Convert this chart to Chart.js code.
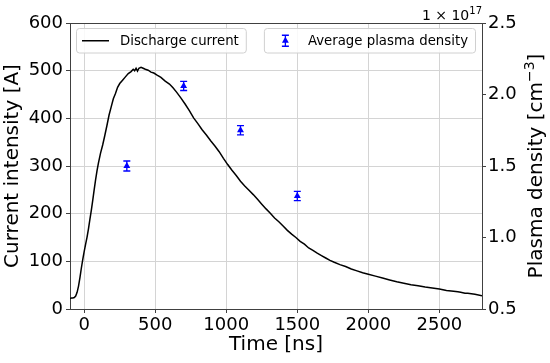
<!DOCTYPE html>
<html><head><meta charset="utf-8">
<script src="https://cdn.jsdelivr.net/npm/chart.js@4.4.1/dist/chart.umd.min.js"></script>
<style>html,body{margin:0;padding:0;background:#fff;}canvas{display:block;}</style>
</head><body>
<canvas id="c" width="550" height="363"></canvas>
<script>
// ---- data ----
const timeNs = [-100,-90,-80,-70,-60,-50,-40,-30,-20,-10,0,10,20,30,40,50,60,70,80,90,100,115,130,145,160,175,190,205,220,235,250,270,290,310,330,345,355,365,375,385,400,415,430,450,470,490,510,540,570,600,625,650,680,710,740,770,800,830,860,890,920,950,980,1010,1040,1070,1100,1130,1160,1190,1220,1250,1280,1310,1340,1370,1400,1430,1460,1490,1520,1550,1580,1610,1640,1670,1700,1730,1760,1800,1840,1880,1920,1960,2000,2050,2100,2150,2200,2250,2300,2350,2400,2450,2500,2550,2600,2630,2650,2680,2700,2750,2800];
const currentA = [22,23,23,24,27,35,48,66,86,104,121,136,151,168,188,207,228,250,271,290,306,327,344,364,385,407,424,441,452,465,473,480,487,494,498,503,500,505,499,505,507,505,503,501,497,495,491,486,478,472,464,455,443,430,416,401,389,376,365,353,342,330,316,303,291,280,268,258,249,240,230,220,210,201,191,183,174,165,157,150,142,136,128,123,117,112,107,102,98,93,89,84,80,76,73,69,65,61,57,54,51,49,46,44,42,39,37,36,35,33,33,31,28];
const densityTimes = [300,700,1100,1500];
const densityValues = [1.50,2.06,1.75,1.29];
const densityErrors = [0.035,0.032,0.032,0.032];
const xTicks = [0,500,1000,1500,2000,2500];
const yLeftTicks = [0,100,200,300,400,500,600];
const yRightTicks = [0.5,1.0,1.5,2.0,2.5];

const FONT = 'DejaVu Sans';
const GRID = '#d4d4d4';
const SPINE = '#404040';
const BLUE = '#0000ff';

const curveData = timeNs.map((t,i)=>({x:t,y:currentA[i]}));
const densData = densityTimes.map((t,i)=>({x:t,y:densityValues[i]}));

function drawErrBar(ctx,x,yTop,yBot,cap){
  ctx.beginPath();
  ctx.moveTo(x,yTop);ctx.lineTo(x,yBot);
  ctx.moveTo(x-cap,yTop);ctx.lineTo(x+cap,yTop);
  ctx.moveTo(x-cap,yBot);ctx.lineTo(x+cap,yBot);
  ctx.stroke();
}
function drawTri(ctx,x,y,r){
  ctx.beginPath();
  ctx.moveTo(x,y-r);
  ctx.lineTo(x+r*0.866,y+r*0.5);
  ctx.lineTo(x-r*0.866,y+r*0.5);
  ctx.closePath();ctx.fill();
}
function roundRect(ctx,x,y,w,h,r){
  ctx.beginPath();
  ctx.moveTo(x+r,y);ctx.lineTo(x+w-r,y);ctx.quadraticCurveTo(x+w,y,x+w,y+r);
  ctx.lineTo(x+w,y+h-r);ctx.quadraticCurveTo(x+w,y+h,x+w-r,y+h);
  ctx.lineTo(x+r,y+h);ctx.quadraticCurveTo(x,y+h,x,y+h-r);
  ctx.lineTo(x,y+r);ctx.quadraticCurveTo(x,y,x+r,y);ctx.closePath();
}

const decor = {
  id:'decor',
  beforeDatasetsDraw(chart){
    const ctx=chart.ctx, xs=chart.scales.x, ys=chart.scales.y2;
    ctx.save();
    ctx.strokeStyle=BLUE;ctx.lineWidth=1.3;
    densityTimes.forEach((t,i)=>{
      const x=xs.getPixelForValue(t);
      drawErrBar(ctx,x,ys.getPixelForValue(densityValues[i]+densityErrors[i]),ys.getPixelForValue(densityValues[i]-densityErrors[i]),3.5);
    });
    ctx.restore();
  },
  afterDraw(chart){
    const ctx=chart.ctx, a=chart.chartArea;
    ctx.save();
    // top spine
    ctx.strokeStyle=SPINE;ctx.lineWidth=1;
    ctx.beginPath();ctx.moveTo(a.left,a.top+0.5);ctx.lineTo(a.right,a.top+0.5);ctx.stroke();

    // legends
    ctx.font='13.3px "'+FONT+'"';
    ctx.textBaseline='middle';ctx.textAlign='left';
    const t1='Discharge current', t2='Average plasma density';
    const w1=ctx.measureText(t1).width, w2=ctx.measureText(t2).width;
    const bt=a.top+5.5, bh=24.5;
    // left legend
    let bx=a.left+6.5, bw=w1+51;
    roundRect(ctx,bx,bt,bw,bh,3);
    ctx.fillStyle='rgba(255,255,255,0.85)';ctx.fill();
    ctx.strokeStyle='#d0d0d0';ctx.lineWidth=1;ctx.stroke();
    const my=bt+bh/2;
    ctx.strokeStyle='#000';ctx.lineWidth=1.5;
    ctx.beginPath();ctx.moveTo(bx+5.5,my);ctx.lineTo(bx+32.5,my);ctx.stroke();
    ctx.fillStyle='#000';ctx.fillText(t1,bx+43.5,my+0.5);
    // right legend
    bw=w2+51; bx=a.right-6.5-bw;
    roundRect(ctx,bx,bt,bw,bh,3);
    ctx.fillStyle='rgba(255,255,255,0.85)';ctx.fill();
    ctx.strokeStyle='#d0d0d0';ctx.lineWidth=1;ctx.stroke();
    ctx.strokeStyle=BLUE;ctx.lineWidth=1.3;
    drawErrBar(ctx,bx+21,my-5.5,my+5.5,3.5);
    ctx.fillStyle=BLUE;drawTri(ctx,bx+21,my,4);
    ctx.fillStyle='#000';ctx.fillText(t2,bx+43.5,my+0.5);

    // offset text 1 x 10^17
    ctx.textBaseline='alphabetic';ctx.textAlign='left';
    ctx.font='10px "'+FONT+'"';
    const ws=ctx.measureText('17').width;
    ctx.font='14px "'+FONT+'"';
    const wm=ctx.measureText('1 \u00d7 10').width;
    const ox=a.right-ws-wm;
    ctx.fillText('1 \u00d7 10',ox,20);
    ctx.font='10px "'+FONT+'"';
    ctx.fillText('17',ox+wm,14);

    // right axis title (reads bottom to top)
    ctx.translate(542,(a.top+a.bottom)/2);
    ctx.rotate(-Math.PI/2);
    ctx.font='20px "'+FONT+'"';
    const p1='Plasma density [cm', p3=']';
    const wa=ctx.measureText(p1).width, wc=ctx.measureText(p3).width;
    ctx.font='14px "'+FONT+'"';
    const wb=ctx.measureText('\u22123').width;
    const tot=wa+wb+wc;
    let sx=-tot/2;
    ctx.font='20px "'+FONT+'"';ctx.fillText(p1,sx,0);
    ctx.font='14px "'+FONT+'"';ctx.fillText('\u22123',sx+wa,-8);
    ctx.font='20px "'+FONT+'"';ctx.fillText(p3,sx+wa+wb,0);
    ctx.restore();
  }
};

new Chart(document.getElementById('c'),{
  type:'scatter',
  data:{datasets:[
    {label:'Discharge current',data:curveData,showLine:true,borderColor:'#000',borderWidth:1.5,pointRadius:0,tension:0,yAxisID:'y',xAxisID:'x'},
    {label:'Average plasma density',data:densData,showLine:false,pointStyle:'triangle',pointRadius:4,backgroundColor:BLUE,borderColor:BLUE,borderWidth:0,yAxisID:'y2',xAxisID:'x'}
  ]},
  options:{
    responsive:false,animation:false,devicePixelRatio:1,
    layout:{padding:{top:23,left:0,right:0,bottom:0}},
    plugins:{legend:{display:false},tooltip:{enabled:false}},
    scales:{
      x:{type:'linear',position:'bottom',min:-100,max:2800,
        afterBuildTicks:s=>{s.ticks=xTicks.map(v=>({value:v}));},
        afterFit:s=>{s.height=54;},
        ticks:{font:{family:FONT,size:18},color:'#000',padding:2,maxRotation:0,autoSkip:false,callback:v=>String(v)},
        grid:{color:GRID,lineWidth:1,tickLength:4,tickColor:SPINE},
        border:{color:SPINE,width:1},
        title:{display:true,text:'Time [ns]',color:'#000',font:{family:FONT,size:20},padding:{top:0,bottom:6}}
      },
      y:{type:'linear',position:'left',min:0,max:600,
        afterBuildTicks:s=>{s.ticks=yLeftTicks.map(v=>({value:v}));},
        afterFit:s=>{s.width=70;},
        ticks:{font:{family:FONT,size:18},color:'#000',padding:3,callback:v=>String(v)},
        grid:{color:GRID,lineWidth:1,tickLength:4,tickColor:SPINE},
        border:{color:SPINE,width:1},
        title:{display:true,text:'Current intensity [A]',color:'#000',font:{family:FONT,size:20},padding:{top:1,bottom:0}}
      },
      y2:{type:'linear',position:'right',min:0.5,max:2.5,
        afterBuildTicks:s=>{s.ticks=yRightTicks.map(v=>({value:v}));},
        afterFit:s=>{s.width=68;},
        ticks:{font:{family:FONT,size:18},color:'#000',padding:2,callback:v=>Number(v).toFixed(1)},
        grid:{drawOnChartArea:false,tickLength:4,tickColor:SPINE},
        border:{color:SPINE,width:1}
      }
    }
  },
  plugins:[decor]
});
</script>
</body></html>
